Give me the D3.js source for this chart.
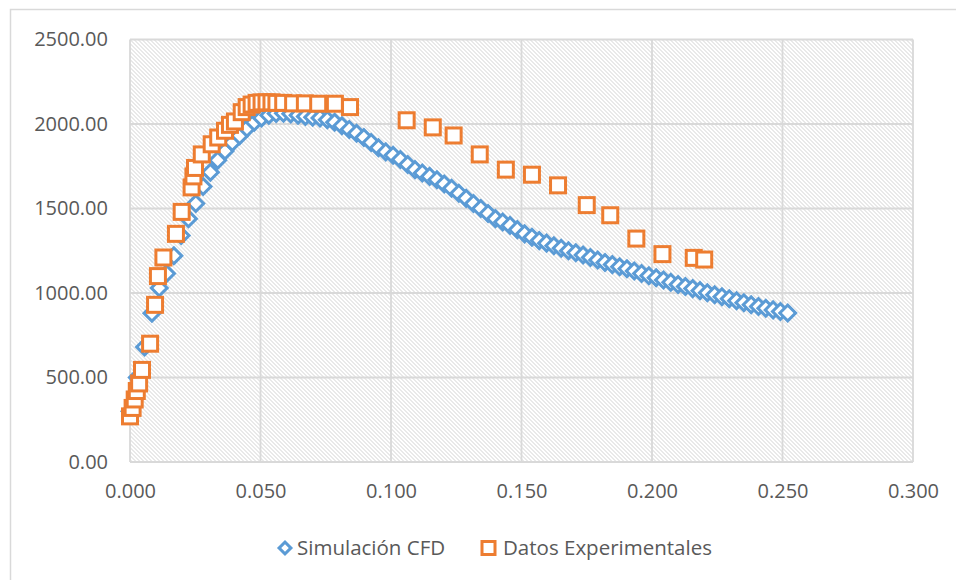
<!DOCTYPE html>
<html>
<head>
<meta charset="utf-8">
<script src="https://cdn.jsdelivr.net/npm/d3@7"></script>
<style>
	body { margin: 0; background: #fff; }
	text { font-family: "Open Sans", sans-serif; fill: #595959; }
</style>
</head>
<body>
<svg></svg>
<script>
// Simulación CFD (x, y)
var cfdX = [0.0000, 0.0028, 0.0056, 0.0084, 0.0112, 0.0140, 0.0168, 0.0196, 0.0224, 0.0252,
	0.0280, 0.0308, 0.0336, 0.0364, 0.0392, 0.0420, 0.0448, 0.0476, 0.0504, 0.0532,
	0.0560, 0.0588, 0.0616, 0.0644, 0.0672, 0.0700, 0.0728, 0.0756, 0.0784, 0.0812,
	0.0840, 0.0868, 0.0896, 0.0924, 0.0952, 0.0980, 0.1008, 0.1036, 0.1064, 0.1092,
	0.1120, 0.1148, 0.1176, 0.1204, 0.1232, 0.1260, 0.1288, 0.1316, 0.1344, 0.1372,
	0.1400, 0.1428, 0.1456, 0.1484, 0.1512, 0.1540, 0.1568, 0.1596, 0.1624, 0.1652,
	0.1680, 0.1708, 0.1736, 0.1764, 0.1792, 0.1820, 0.1848, 0.1876, 0.1904, 0.1932,
	0.1960, 0.1988, 0.2016, 0.2044, 0.2072, 0.2100, 0.2128, 0.2156, 0.2184, 0.2212,
	0.2240, 0.2268, 0.2296, 0.2324, 0.2352, 0.2380, 0.2408, 0.2436, 0.2464, 0.2492,
	0.2520];
var cfdY = [300, 500, 680, 880, 1030, 1115, 1220, 1340, 1440, 1530,
	1630, 1715, 1785, 1840, 1890, 1930, 1975, 2010, 2035, 2052,
	2062, 2064, 2060, 2052, 2045, 2040, 2035, 2025, 2010, 1990,
	1968, 1945, 1920, 1890, 1860, 1835, 1815, 1790, 1760, 1730,
	1710, 1690, 1670, 1645, 1620, 1590, 1560, 1530, 1500, 1470,
	1440, 1420, 1400, 1375, 1350, 1330, 1310, 1295, 1280, 1265,
	1250, 1238, 1225, 1210, 1195, 1180, 1168, 1155, 1143, 1130,
	1115, 1102, 1090, 1077, 1064, 1050, 1038, 1026, 1014, 1002,
	990, 978, 966, 954, 942, 931, 920, 910, 900, 891,
	882];

// Datos Experimentales (x, y)
var expX = [0.0000, 0.0010, 0.0018, 0.0026, 0.0035, 0.0046, 0.0077, 0.0096, 0.0107, 0.0128,
	0.0176, 0.0198, 0.0236, 0.0243, 0.0249, 0.0275, 0.0313, 0.0338, 0.0364, 0.0383,
	0.0402, 0.0428, 0.0447, 0.0466, 0.0485, 0.0504, 0.0523, 0.0542, 0.0561, 0.0587,
	0.0625, 0.0670, 0.0721, 0.0785, 0.0843, 0.1060, 0.1160, 0.1240, 0.1340, 0.1440,
	0.1540, 0.1640, 0.1750, 0.1840, 0.1940, 0.2040, 0.2160, 0.2200];
var expY = [270, 320, 370, 420, 465, 545, 700, 930, 1100, 1210,
	1350, 1480, 1625, 1690, 1740, 1820, 1880, 1920, 1960, 1995,
	2015, 2070, 2100, 2115, 2125, 2128, 2128, 2128, 2125, 2125,
	2122, 2122, 2120, 2120, 2100, 2022, 1980, 1932, 1820, 1730,
	1700, 1637, 1520, 1460, 1322, 1230, 1208, 1198];

var xTicks = [0, 0.05, 0.1, 0.15, 0.2, 0.25, 0.3];
var yTicks = [0, 500, 1000, 1500, 2000, 2500];
var seriesNames = ["Simulación CFD", "Datos Experimentales"];

var blue = "#5b9bd5",
	orange = "#ed7d31",
	gridColor = "#d9d9d9";

var margin = { top: 39.5, right: 43, bottom: 118, left: 130 },
	width = 956 - margin.left - margin.right,
	height = 580 - margin.top - margin.bottom;

var svg0 = d3.select("svg").attr("width", 956).attr("height", 580);

// chart border
svg0.append("rect")
	.attr("x", 10.5)
	.attr("y", 9.5)
	.attr("width", 1000)
	.attr("height", 1000)
	.attr("fill", "none")
	.attr("stroke", gridColor)
	.attr("stroke-width", 1.5);

// hatch pattern for plot area
var defs = svg0.append("defs");
var pat = defs.append("pattern")
	.attr("id", "hatch")
	.attr("patternUnits", "userSpaceOnUse")
	.attr("width", 4)
	.attr("height", 4);
pat.append("path")
	.attr("d", "M-1,-1 L5,5 M-1,3 L1,5 M3,-1 L5,1")
	.attr("stroke", "#d3d3d3")
	.attr("stroke-width", 1);

var svg = svg0.append("g")
	.attr("transform", "translate(" + margin.left + "," + margin.top + ")");

var x = d3.scaleLinear().domain([0, 0.3]).range([0, width]);
var y = d3.scaleLinear().domain([0, 2500]).range([height, 0]);

svg.append("rect")
	.attr("width", width)
	.attr("height", height)
	.attr("fill", "url(#hatch)");

// gridlines
svg.selectAll(".hgrid")
	.data(yTicks)
	.enter()
	.append("line")
	.attr("class", "hgrid")
	.attr("x1", 0)
	.attr("x2", width)
	.attr("y1", d => y(d))
	.attr("y2", d => y(d))
	.attr("stroke", gridColor)
	.attr("stroke-width", 1.8);

svg.selectAll(".vgrid")
	.data(xTicks)
	.enter()
	.append("line")
	.attr("class", "vgrid")
	.attr("y1", 0)
	.attr("y2", height)
	.attr("x1", d => x(d))
	.attr("x2", d => x(d))
	.attr("stroke", gridColor)
	.attr("stroke-width", 1.8);

// axes (labels only)
var xAxis = d3.axisBottom(x).tickValues(xTicks).tickFormat(d3.format(".3f")).tickSize(0).tickPadding(22);
var yAxis = d3.axisLeft(y).tickValues(yTicks).tickFormat(d3.format(".2f")).tickSize(0).tickPadding(22);

var gx = svg.append("g")
	.attr("transform", "translate(0," + height + ")")
	.call(xAxis);
var gy = svg.append("g").call(yAxis);

[gx, gy].forEach(function(g) {
	g.select(".domain").remove();
	g.selectAll("text")
		.attr("font-size", 20)
		.attr("fill", "#595959")
		.style("font-family", "'Open Sans', sans-serif");
});

// series
var cfd = cfdX.map((d, i) => ({ x: d, y: cfdY[i] }));
var exp = expX.map((d, i) => ({ x: d, y: expY[i] }));

var diamond = d3.symbol().type(d3.symbolSquare).size(125);

svg.selectAll(".cfd")
	.data(cfd)
	.enter()
	.append("path")
	.attr("class", "cfd")
	.attr("d", diamond)
	.attr("transform", d => "translate(" + x(d.x) + "," + y(d.y) + ") rotate(45)")
	.attr("fill", "#fff")
	.attr("stroke", blue)
	.attr("stroke-width", 3);

svg.selectAll(".exp")
	.data(exp)
	.enter()
	.append("rect")
	.attr("class", "exp")
	.attr("x", d => x(d.x) - 7.5)
	.attr("y", d => y(d.y) - 7.5)
	.attr("width", 15)
	.attr("height", 15)
	.attr("fill", "#fff")
	.attr("stroke", orange)
	.attr("stroke-width", 3);

// legend
var legend = svg0.append("g").attr("transform", "translate(0,548)");

legend.append("path")
	.attr("d", d3.symbol().type(d3.symbolSquare).size(70))
	.attr("transform", "translate(285,0) rotate(45)")
	.attr("fill", "#fff")
	.attr("stroke", blue)
	.attr("stroke-width", 3);

legend.append("rect")
	.attr("x", 482)
	.attr("y", -6.5)
	.attr("width", 13)
	.attr("height", 13)
	.attr("fill", "#fff")
	.attr("stroke", orange)
	.attr("stroke-width", 3);

legend.selectAll(".leg-text")
	.data(seriesNames)
	.enter()
	.append("text")
	.attr("class", "leg-text")
	.attr("x", (d, i) => (i === 0 ? 297 : 503))
	.attr("y", 0)
	.attr("dy", "0.35em")
	.attr("font-size", 20.5)
	.text(d => d);
</script>
</body>
</html>
